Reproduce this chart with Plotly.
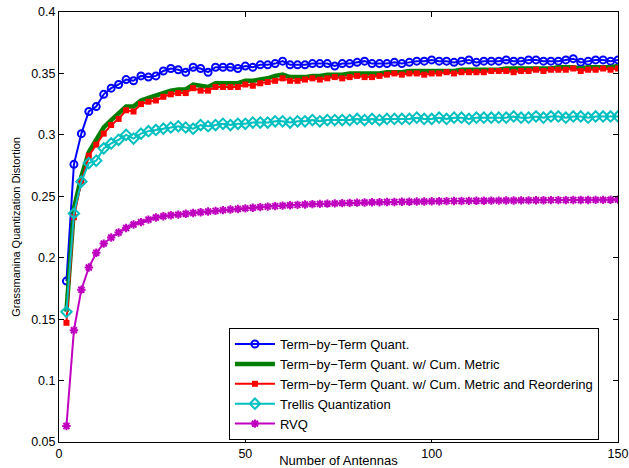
import plotly.graph_objects as go

antennas = list(range(2, 151, 2))

term_by_term = [
    0.181, 0.276, 0.301, 0.319, 0.323, 0.333, 0.338, 0.341, 0.345, 0.344,
    0.348, 0.347, 0.348, 0.352, 0.354, 0.353, 0.351, 0.355, 0.354, 0.351,
    0.355, 0.355, 0.355, 0.354, 0.356, 0.355, 0.357, 0.357, 0.358, 0.360,
    0.357, 0.357, 0.357, 0.358, 0.358, 0.358, 0.356, 0.358, 0.358, 0.359,
    0.360, 0.358, 0.358, 0.358, 0.359, 0.358, 0.359, 0.360, 0.360, 0.361,
    0.360, 0.360, 0.359, 0.360, 0.361, 0.359, 0.360, 0.360, 0.360, 0.361,
    0.360, 0.360, 0.361, 0.361, 0.360, 0.360, 0.360, 0.361, 0.362, 0.359,
    0.360, 0.361, 0.361, 0.360, 0.361,
]

cum_metric = [
    0.156, 0.240, 0.266, 0.286, 0.296, 0.306, 0.312, 0.317, 0.323, 0.323,
    0.328, 0.330, 0.332, 0.334, 0.336, 0.337, 0.337, 0.341, 0.340, 0.339,
    0.342, 0.342, 0.342, 0.342, 0.344, 0.344, 0.345, 0.346, 0.348, 0.349,
    0.347, 0.347, 0.347, 0.348, 0.348, 0.349, 0.349, 0.349, 0.350, 0.350,
    0.350, 0.350, 0.350, 0.351, 0.351, 0.351, 0.352, 0.352, 0.352, 0.352,
    0.352, 0.352, 0.352, 0.353, 0.353, 0.353, 0.353, 0.353, 0.353, 0.354,
    0.354, 0.354, 0.354, 0.354, 0.354, 0.354, 0.355, 0.355, 0.355, 0.354,
    0.355, 0.355, 0.355, 0.355, 0.356,
]

cum_metric_reorder = [
    0.147, 0.233, 0.262, 0.283, 0.292, 0.301, 0.308, 0.313, 0.320, 0.319,
    0.325, 0.327, 0.328, 0.331, 0.333, 0.334, 0.334, 0.338, 0.336, 0.336,
    0.339, 0.339, 0.339, 0.339, 0.341, 0.340, 0.342, 0.343, 0.344, 0.346,
    0.344, 0.344, 0.345, 0.346, 0.345, 0.346, 0.347, 0.346, 0.347, 0.348,
    0.347, 0.347, 0.348, 0.349, 0.350, 0.349, 0.350, 0.350, 0.349, 0.350,
    0.350, 0.351, 0.350, 0.351, 0.351, 0.351, 0.351, 0.352, 0.352, 0.352,
    0.351, 0.352, 0.352, 0.353, 0.352, 0.353, 0.353, 0.353, 0.354, 0.352,
    0.353, 0.353, 0.354, 0.353, 0.354,
]

trellis = [
    0.156, 0.236, 0.262, 0.277, 0.279, 0.289, 0.293, 0.296, 0.300, 0.297,
    0.301, 0.303, 0.304, 0.305, 0.306, 0.307, 0.306, 0.305, 0.308, 0.307,
    0.308, 0.309, 0.308, 0.309, 0.309, 0.310, 0.310, 0.310, 0.311, 0.311,
    0.310, 0.311, 0.311, 0.312, 0.311, 0.312, 0.312, 0.312, 0.312, 0.313,
    0.312, 0.313, 0.312, 0.313, 0.313, 0.313, 0.313, 0.314, 0.313, 0.313,
    0.314, 0.313, 0.314, 0.314, 0.313, 0.314, 0.314, 0.314, 0.314, 0.314,
    0.315, 0.314, 0.314, 0.315, 0.314, 0.315, 0.315, 0.314, 0.315, 0.315,
    0.314, 0.315, 0.315, 0.315, 0.315,
]

rvq = [
    0.063, 0.141, 0.174, 0.192, 0.204, 0.2115, 0.2165, 0.2205, 0.2242, 0.227,
    0.229, 0.231, 0.2327, 0.2337, 0.2346, 0.2351, 0.2358, 0.2364, 0.237, 0.2376,
    0.2381, 0.2387, 0.2392, 0.2397, 0.2402, 0.2407, 0.2412, 0.2416, 0.242, 0.2424,
    0.2427, 0.243, 0.2433, 0.2436, 0.2438, 0.244, 0.2442, 0.2444, 0.2446, 0.2448,
    0.2449, 0.2451, 0.2452, 0.2453, 0.2454, 0.2455, 0.2456, 0.2457, 0.2458, 0.2459,
    0.246, 0.2461, 0.2462, 0.2462, 0.2463, 0.2464, 0.2464, 0.2465, 0.2465, 0.2466,
    0.2466, 0.2467, 0.2467, 0.2468, 0.2468, 0.2469, 0.2469, 0.2469, 0.247, 0.247,
    0.247, 0.2471, 0.2471, 0.2472, 0.2473,
]

names = [
    "Term\u2212by\u2212Term Quant.",
    "Term\u2212by\u2212Term Quant. w/ Cum. Metric",
    "Term\u2212by\u2212Term Quant. w/ Cum. Metric and Reordering",
    "Trellis Quantization",
    "RVQ",
]

x_ticks = [0, 50, 100, 150]
y_ticks = [0.05, 0.1, 0.15, 0.2, 0.25, 0.3, 0.35, 0.4]

FONT = "Liberation Sans, Arial, Helvetica, sans-serif"

fig = go.Figure()
fig.add_trace(go.Scatter(
    x=antennas, y=term_by_term, name=names[0], mode="lines+markers",
    line=dict(color="#0000FF", width=2),
    marker=dict(symbol="circle-open", size=7, color="#0000FF", line=dict(width=2)),
))
fig.add_trace(go.Scatter(
    x=antennas, y=cum_metric, name=names[1], mode="lines",
    line=dict(color="#007F00", width=4.5),
))
fig.add_trace(go.Scatter(
    x=antennas, y=cum_metric_reorder, name=names[2], mode="lines+markers",
    line=dict(color="#FF0000", width=2),
    marker=dict(symbol="square", size=6, color="#FF0000"),
))
fig.add_trace(go.Scatter(
    x=antennas, y=trellis, name=names[3], mode="lines+markers",
    line=dict(color="#00BFBF", width=2),
    marker=dict(symbol="diamond-open", size=8, color="#00BFBF", line=dict(width=2)),
))
fig.add_trace(go.Scatter(
    x=antennas, y=rvq, name=names[4], mode="lines+markers",
    line=dict(color="#BF00BF", width=2),
    marker=dict(symbol="asterisk-open", size=7, color="#BF00BF", line=dict(width=2, color="#BF00BF")),
))

axis_common = dict(
    showgrid=False, zeroline=False, showline=True, linecolor="black", linewidth=1,
    mirror="ticks", ticks="inside", ticklen=5, tickcolor="black", automargin=False,
    tickfont=dict(family=FONT, size=12.5, color="black"),
)

fig.update_layout(
    width=629, height=468,
    margin=dict(l=59, r=11, t=12, b=26),
    paper_bgcolor="white", plot_bgcolor="white",
    font=dict(family=FONT, color="black"),
    xaxis=dict(
        range=[0, 150], tickvals=x_ticks, ticktext=[str(v) for v in x_ticks],
        title=dict(text="Number of Antennas", font=dict(family=FONT, size=13), standoff=10),
        **axis_common,
    ),
    yaxis=dict(
        range=[0.05, 0.4], tickvals=y_ticks, ticktext=[f"{v:g}" for v in y_ticks],
        title=dict(text="Grassmanina Quantization Distortion", font=dict(family=FONT, size=11), standoff=8),
        **axis_common,
    ),
    legend=dict(
        x=0.304, y=0.265, xanchor="left", yanchor="top",
        bgcolor="white", bordercolor="black", borderwidth=1,
        font=dict(family=FONT, size=13, color="black"),
        tracegroupgap=0, itemwidth=40,
    ),
    showlegend=True,
)

fig.write_html(
    "out.html",
    config={"displayModeBar": False},
    post_script="document.body.style.margin='0';document.body.style.padding='0';",
)
